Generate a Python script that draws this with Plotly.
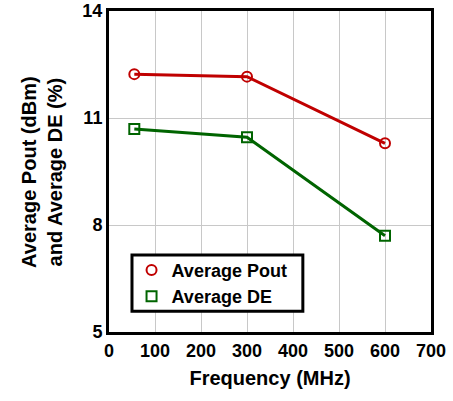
import plotly.graph_objects as go

# Measured averages versus carrier frequency
freq_mhz = [55, 300, 600]
avg_pout_dbm = [12.23, 12.16, 10.29]
avg_de_pct = [10.69, 10.46, 7.70]

x_ticks = [0, 100, 200, 300, 400, 500, 600, 700]
y_ticks = [5, 8, 11, 14]

RED = "#C00000"
GREEN = "#006400"
FONT = "Liberation Sans, Arial, sans-serif"

fig = go.Figure()

series = [
    ("Average Pout", avg_pout_dbm, RED, "circle-open"),
    ("Average DE", avg_de_pct, GREEN, "square-open"),
]

for name, vals, color, symbol in series:
    # connecting line (kept out of the legend so the legend shows markers only)
    fig.add_trace(go.Scatter(
        x=freq_mhz, y=vals, mode="lines",
        line=dict(color=color, width=3),
        showlegend=False, hoverinfo="skip",
    ))
    fig.add_trace(go.Scatter(
        x=freq_mhz, y=vals, mode="markers", name=name,
        marker=dict(symbol=symbol, size=10, color=color,
                    line=dict(color=color, width=2)),
    ))

axis_common = dict(
    showline=True, mirror=True, linecolor="black", linewidth=3,
    showgrid=True, gridcolor="#C8C8C8", gridwidth=1,
    ticks="", zeroline=False, automargin=False,
    tickfont=dict(family=FONT, size=18, color="black", weight="bold"),
)

fig.update_xaxes(
    range=[0, 700], tickvals=x_ticks,
    title=dict(text="Frequency (MHz)", standoff=12,
               font=dict(family=FONT, size=20, color="black", weight="bold")),
    **axis_common,
)
fig.update_yaxes(
    range=[5, 14], tickvals=y_ticks,
    **axis_common,
)

fig.add_annotation(
    xref="paper", yref="paper", x=-0.21, y=0.5,
    text="Average Pout (dBm)<br>and Average DE (%)",
    textangle=-90, showarrow=False, xanchor="center", yanchor="middle",
    font=dict(family=FONT, size=20, color="black", weight="bold"),
)

# framed white box behind the legend entries
fig.add_shape(
    type="rect", xref="paper", yref="paper",
    x0=0.0714, x1=0.602, y0=0.065, y1=0.240,
    line=dict(color="black", width=3), fillcolor="white", layer="above",
)

fig.update_layout(
    width=453, height=401,
    margin=dict(l=109, r=22, t=11, b=69, autoexpand=False),
    plot_bgcolor="white", paper_bgcolor="white",
    legend=dict(
        x=0.07, y=0.25, xanchor="left", yanchor="top",
        bgcolor="rgba(0,0,0,0)", borderwidth=0,
        font=dict(family=FONT, size=18, color="black", weight="bold"),
        itemwidth=30, tracegroupgap=0,
    ),
)

fig.write_html("out.html")
